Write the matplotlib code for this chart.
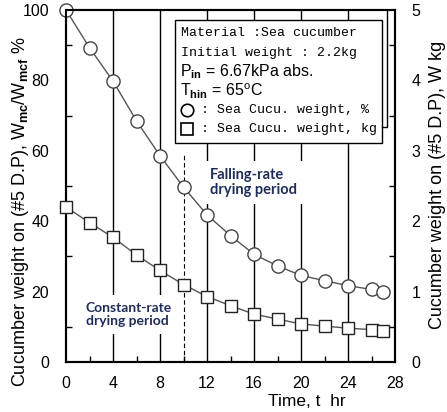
import matplotlib
matplotlib.use("Agg")
import matplotlib.pyplot as plt
from matplotlib.patches import Rectangle
from matplotlib.ticker import MultipleLocator

time_hr = [0, 2, 4, 6, 8, 10, 12, 14, 16, 18, 20, 22, 24, 26, 27]
weight_pct = [100, 89.3, 79.8, 68.5, 58.6, 49.7, 41.8, 35.9, 30.6, 27.3, 24.6, 23.1, 21.7, 20.6, 19.8]
weight_kg = [2.2, 1.98, 1.77, 1.52, 1.30, 1.10, 0.93, 0.80, 0.68, 0.61, 0.54, 0.51, 0.48, 0.46, 0.44]
grid_times = [4, 8, 12, 16, 20, 24]
boundary_time = 10
x_ticks = [0, 4, 8, 12, 16, 20, 24, 28]
left_ticks = [0, 20, 40, 60, 80, 100]
right_ticks = [0, 1, 2, 3, 4, 5]
legend_mono = ["Material :Sea cucumber", "Initial weight : 2.2kg"]
legend_prop = [r"P$_{\mathbf{in}}$ = 6.67kPa abs.",
               r"T$_{\mathbf{hin}}$ = 65$^{\mathrm{o}}$C"]
legend_series = [": Sea Cucu. weight, %", ": Sea Cucu. weight, kg"]

plt.rcParams['font.family'] = ['Liberation Sans', 'DejaVu Sans']
plt.rcParams['mathtext.fontset'] = 'custom'
plt.rcParams['mathtext.rm'] = 'Liberation Sans'
plt.rcParams['mathtext.bf'] = 'Liberation Sans:bold'

W, H = 447, 412
fx = lambda px: px / W
fy = lambda py: 1 - py / H

fig = plt.figure(figsize=(W / 100, H / 100), dpi=100)
ax = fig.add_axes([66 / W, (H - 362) / H, (395 - 66) / W, (362 - 10) / H])
ax2 = ax.twinx()

ax.set_xlim(0, 28)
ax.set_ylim(0, 100)
ax2.set_ylim(0, 5)

for t in grid_times:
    ax.axvline(t, color='black', lw=1.0, zorder=1)
ax.plot([boundary_time, boundary_time], [0, 59], color='black', lw=0.8,
        dashes=(4, 2.5), zorder=1)

ax.plot(time_hr, weight_pct, color='#555555', lw=1.0, marker='o', ms=9.5,
        mfc='white', mec='#444444', mew=1.0, zorder=5, clip_on=False)
ax2.plot(time_hr, weight_kg, color='#555555', lw=1.0, marker='s', ms=8.5,
         mfc='white', mec='#222222', mew=1.0, zorder=5, clip_on=False)

for a in (ax, ax2):
    for s in a.spines.values():
        s.set_linewidth(1.5)
ax.set_xticks(x_ticks)
ax.xaxis.set_minor_locator(MultipleLocator(2))
ax.set_yticks(left_ticks)
ax.yaxis.set_minor_locator(MultipleLocator(10))
ax2.set_yticks(right_ticks)
ax2.yaxis.set_minor_locator(MultipleLocator(0.5))
ax.tick_params(axis='both', which='both', direction='in', labelsize=11.5, width=1.0)
ax.tick_params(axis='x', which='major', length=0, pad=10)
ax.tick_params(axis='x', which='minor', length=4)
ax.tick_params(axis='y', which='major', length=0, pad=12)
ax.tick_params(axis='y', which='minor', length=4)
ax2.tick_params(axis='y', which='both', direction='in', labelsize=11.5, width=1.0)
ax2.tick_params(axis='y', which='major', length=0, pad=12)
ax2.tick_params(axis='y', which='minor', length=4)

ax.set_ylabel(r"Cucumber weight on (#5 D.P), W$_{\mathbf{mc}}$/W$_{\mathbf{mcf}}$ %",
              fontsize=13, va='center')
ax.yaxis.set_label_coords(-(66 - 21) / (395 - 66), (362 - 212) / (362 - 10))
ax2.set_ylabel("Cucumber weight on (#5 D.P), W kg", fontsize=13, rotation=90, va='center')
ax2.yaxis.set_label_coords((438 - 66) / (395 - 66), (362 - 185) / (362 - 10))
fig.text(fx(307), fy(402), "Time, t  hr", fontsize=12.5, ha='center', va='center')

# legend box with offset outline (right/bottom edge of a frame behind it)
fig.lines.append(plt.Line2D([fx(382), fx(387), fx(387)], [fy(127), fy(127), fy(11)],
                            color='black', lw=1.0, transform=fig.transFigure, zorder=6))
ax.add_patch(Rectangle((fx(175), fy(143)), (382 - 175) / W, (143 - 20) / H,
                       transform=fig.transFigure, facecolor='white', edgecolor='black',
                       lw=1.0, zorder=7))
line_y = [33, 53, 72, 91, 110, 129]
mono = ['Liberation Mono', 'DejaVu Sans Mono']
for i, line in enumerate(legend_mono):
    fig.text(fx(181), fy(line_y[i]), line, fontsize=9.5, family=mono,
             ha='left', va='center', zorder=8)
for i, line in enumerate(legend_prop):
    fig.text(fx(180), fy(line_y[2 + i]), line, fontsize=11.5,
             ha='left', va='center', zorder=8)
for i, line in enumerate(legend_series):
    fig.text(fx(201), fy(line_y[4 + i]), line, fontsize=9.5, family=mono,
             ha='left', va='center', zorder=8)
fig.lines.append(plt.Line2D([fx(187)], [fy(line_y[4])], marker='o', ms=9,
                            mfc='white', mec='black', mew=1.2, ls='none',
                            transform=fig.transFigure, zorder=9))
fig.lines.append(plt.Line2D([fx(187)], [fy(line_y[5])], marker='s', ms=8.5,
                            mfc='white', mec='black', mew=1.2, ls='none',
                            transform=fig.transFigure, zorder=9))

txt_color = '#1f2d5a'
tfam = ['Lato', 'DejaVu Sans']
ax.text(12.25, (362 - 182.5) / 3.52, "Falling-rate\ndrying period", fontsize=10.5,
        color=txt_color, family=tfam, fontweight='bold', ha='left', va='center',
        linespacing=1.1, zorder=4,
        bbox=dict(facecolor='white', edgecolor='none', pad=5))
ax.text(1.7, (362 - 314.5) / 3.52, "Constant-rate\ndrying period", fontsize=10,
        color=txt_color, family=tfam, fontweight='bold', ha='left', va='center',
        linespacing=1.15, zorder=4,
        bbox=dict(facecolor='white', edgecolor='none', pad=5))

fig.savefig("out.png", dpi=100)
